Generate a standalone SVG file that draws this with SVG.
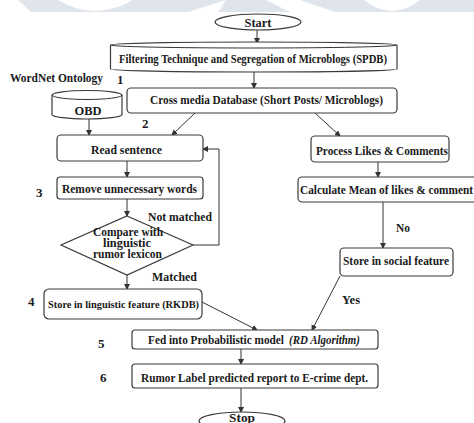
<svg xmlns="http://www.w3.org/2000/svg" width="474" height="423" viewBox="0 0 474 423">
<style>
.box{fill:#fff;stroke:#3a3a3a;stroke-width:1.2}
.t{font-family:"Liberation Serif","Times New Roman",serif;font-weight:bold;fill:#1a1a1a;font-size:13px}
.s{font-size:12px}
.xs{font-size:11px}
.c{fill:none;stroke:#333;stroke-width:1}
</style>
<defs>
<marker id="ah" markerWidth="6" markerHeight="6" refX="5" refY="3" orient="auto" markerUnits="userSpaceOnUse">
<path d="M0,0 L6,3 L0,6 z" fill="#333"/>
</marker>
</defs>
<rect width="474" height="423" fill="#fff"/>
<g id="watermark">
<rect x="0" y="0" width="474" height="12" fill="#dfe5ea"/>
<polygon points="0,0 18,0 31,12 0,12" fill="#fff"/>
<path d="M58,0 Q95,22 133,0 Z" fill="#fff"/>
<polygon points="188,12 226,0 218,12" fill="#fff"/>
<polygon points="266,0 300,0 335,12 290,12" fill="#fff"/>
<path d="M364,0 Q392,22 420,0 Z" fill="#fff"/>
</g>
<g id="connectors">
<line class="c" x1="257" y1="30" x2="257" y2="43" marker-end="url(#ah)"/>
<line class="c" x1="254" y1="72" x2="254" y2="88" marker-end="url(#ah)"/>
<line class="c" x1="89" y1="119" x2="89" y2="135" marker-end="url(#ah)"/>
<line class="c" x1="195" y1="113" x2="172" y2="135" marker-end="url(#ah)"/>
<line class="c" x1="315" y1="113" x2="340" y2="136" marker-end="url(#ah)"/>
<line class="c" x1="127" y1="161" x2="127" y2="177" marker-end="url(#ah)"/>
<line class="c" x1="127" y1="199" x2="127" y2="216" marker-end="url(#ah)"/>
<polyline class="c" points="193,245 219,245 219,149 203,149" marker-end="url(#ah)"/>
<line class="c" x1="127" y1="275" x2="127" y2="289" marker-end="url(#ah)"/>
<line class="c" x1="378" y1="162" x2="378" y2="177" marker-end="url(#ah)"/>
<line class="c" x1="383" y1="202" x2="383" y2="248" marker-end="url(#ah)"/>
<line class="c" x1="202" y1="302" x2="257" y2="330" marker-end="url(#ah)"/>
<line class="c" x1="340" y1="276" x2="312" y2="330" marker-end="url(#ah)"/>
<line class="c" x1="241" y1="349" x2="241" y2="364" marker-end="url(#ah)"/>
<line class="c" x1="241" y1="388" x2="241" y2="412" marker-end="url(#ah)"/>
</g>
<g id="start">
<ellipse class="box" cx="258" cy="22" rx="43" ry="8"/>
<text class="t" x="258" y="27" text-anchor="middle" font-size="14" textLength="27" lengthAdjust="spacingAndGlyphs">Start</text>
</g>
<g id="filtering">
<path class="box" d="M110.5,45 A143,3 0 0 1 397,45 L397,69 A143,3 0 0 1 110.5,69 Z"/>
<path class="c" d="M110.5,45 A143,3 0 0 0 397,45" stroke-width="0.8"/>
<text class="t s" x="119" y="63" textLength="268" lengthAdjust="spacingAndGlyphs">Filtering  Technique and Segregation of Microblogs (SPDB)</text>
</g>
<g id="wordnet">
<text class="t s" x="10" y="82" textLength="93" lengthAdjust="spacingAndGlyphs">WordNet Ontology</text>
<text class="t" x="117" y="84">1</text>
</g>
<g id="obd">
<path class="box" d="M52,95 A35,4.5 0 0 1 122,95 L122,114.5 A35,4.5 0 0 1 52,114.5 Z"/>
<path class="c" d="M52,95 A35,4.5 0 0 0 122,95" stroke="#3a3a3a" stroke-width="1.2"/>
<text class="t" x="88" y="115" text-anchor="middle" textLength="27" lengthAdjust="spacingAndGlyphs">OBD</text>
</g>
<g id="crossmedia">
<rect class="box" x="127" y="88" width="270" height="25" rx="4"/>
<text class="t" x="150" y="104" textLength="233" lengthAdjust="spacingAndGlyphs">Cross media Database (Short Posts/ Microblogs)</text>
</g>
<text class="t" x="142" y="128">2</text>
<g id="read">
<rect class="box" x="57" y="135" width="146" height="26" rx="4"/>
<text class="t" x="91" y="154" textLength="71" lengthAdjust="spacingAndGlyphs">Read sentence</text>
</g>
<g id="remove">
<rect class="box" x="57" y="177" width="146" height="22" rx="3"/>
<text class="t" x="62" y="193" textLength="135" lengthAdjust="spacingAndGlyphs">Remove unnecessary words</text>
<text class="t" x="36" y="197">3</text>
</g>
<g id="compare">
<polygon class="box" points="127,216 193,245 127,275 61,245"/>
<text class="t s" x="93" y="236" textLength="70" lengthAdjust="spacingAndGlyphs">Compare with</text>
<text class="t s" x="103" y="247" textLength="48" lengthAdjust="spacingAndGlyphs">linguistic</text>
<text class="t s" x="93" y="258" textLength="69" lengthAdjust="spacingAndGlyphs">rumor lexicon</text>
</g>
<text class="t" x="148" y="221" textLength="64" lengthAdjust="spacingAndGlyphs">Not matched</text>
<text class="t" x="152" y="281" textLength="45" lengthAdjust="spacingAndGlyphs">Matched</text>
<g id="process">
<rect class="box" x="311" y="136" width="138" height="26" rx="4"/>
<text class="t" x="316" y="155" textLength="132" lengthAdjust="spacingAndGlyphs">Process Likes &amp; Comments</text>
</g>
<g id="calculate">
<rect class="box" x="298" y="177" width="184" height="25" rx="4"/>
<text class="t" x="300" y="194" textLength="173" lengthAdjust="spacingAndGlyphs">Calculate Mean of likes &amp; comment</text>
</g>
<text class="t" x="396" y="232" textLength="14" lengthAdjust="spacingAndGlyphs">No</text>
<g id="social">
<rect class="box" x="340" y="248" width="113" height="28" rx="4"/>
<text class="t" x="343" y="265" textLength="106" lengthAdjust="spacingAndGlyphs">Store in social feature</text>
</g>
<text class="t" x="342" y="304" textLength="18" lengthAdjust="spacingAndGlyphs">Yes</text>
<g id="linguistic">
<rect class="box" x="44" y="289" width="158" height="30" rx="5"/>
<text class="t xs" x="48" y="308" textLength="151" lengthAdjust="spacingAndGlyphs">Store in linguistic feature (RKDB)</text>
<text class="t" x="28" y="306">4</text>
</g>
<g id="fed">
<rect class="box" x="132" y="330" width="246" height="19" rx="3"/>
<text class="t" x="148" y="344" textLength="136" lengthAdjust="spacingAndGlyphs">Fed into Probabilistic model</text>
<text class="t" x="289" y="344" font-style="italic" textLength="71" lengthAdjust="spacingAndGlyphs">(RD Algorithm)</text>
<text class="t" x="98" y="348">5</text>
</g>
<g id="rumor">
<rect class="box" x="132" y="364" width="246" height="24" rx="3"/>
<text class="t" x="141" y="382" textLength="227" lengthAdjust="spacingAndGlyphs">Rumor Label predicted report to E-crime dept.</text>
<text class="t" x="100" y="382">6</text>
</g>
<g id="stop">
<ellipse class="box" cx="242" cy="421" rx="43" ry="9"/>
<text class="t" x="242" y="422" text-anchor="middle" font-size="14" textLength="26" lengthAdjust="spacingAndGlyphs">Stop</text>
</g>
</svg>
